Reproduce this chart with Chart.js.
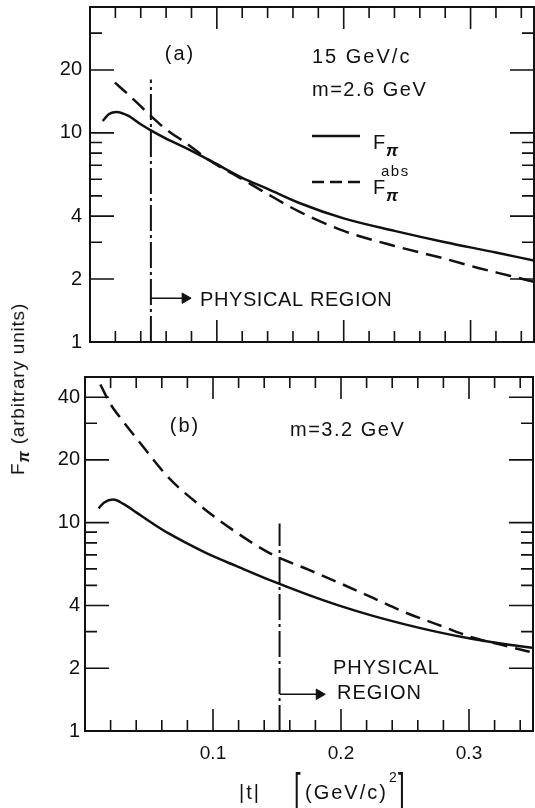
<!DOCTYPE html>
<html>
<head>
<meta charset="utf-8">
<script src="https://cdn.jsdelivr.net/npm/chart.js@4.4.1/dist/chart.umd.min.js"></script>
<style>
  body { margin: 0; background: #fff; width: 535px; height: 808px; position: relative; overflow: hidden;
         font-family: "Liberation Sans", Arial, sans-serif; }
  #top { position: absolute; left: 0; top: 0; }
  #bot { position: absolute; left: 0; top: 360px; }
  #ytitle { position: absolute; left: 20px; top: 389px; transform: translate(-50%, -50%) rotate(-90deg);
            white-space: nowrap; font-size: 19px; letter-spacing: 0.8px; color: #111; }
  #ytitle sub { font-style: italic; font-weight: bold; font-size: 16px; }
</style>
</head>
<body>
<canvas id="top" width="535" height="360"></canvas>
<canvas id="bot" width="535" height="448"></canvas>
<div id="ytitle">F<sub>π</sub> (arbitrary units)</div>
<script>
// panel (a): 15 GeV/c, m = 2.6 GeV
const aSolidT = [0.010, 0.015, 0.021, 0.03, 0.04, 0.049, 0.06, 0.075, 0.096, 0.12, 0.14, 0.165, 0.2, 0.24, 0.28, 0.32, 0.35];
const aSolidF = [11.4, 12.3, 12.6, 12.1, 11.0, 10.2, 9.4, 8.5, 7.3, 6.1, 5.4, 4.62, 3.9, 3.4, 3.0, 2.68, 2.45];
const aAbsT = [0.0196, 0.03, 0.049, 0.06, 0.075, 0.094, 0.12, 0.14, 0.165, 0.2, 0.24, 0.28, 0.306, 0.33, 0.35];
const aAbsF = [17.4, 15.3, 11.9, 10.4, 9.0, 7.4, 6.0, 5.1, 4.2, 3.4, 2.88, 2.5, 2.26, 2.08, 1.94];
const aPhysT = 0.048, aPhysTop = 18, aArrowEnd = 0.075, aArrowF = 1.62;

// panel (b): m = 3.2 GeV
const bSolidT = [0.0106, 0.015, 0.022, 0.03, 0.04, 0.053, 0.065, 0.079, 0.1, 0.118, 0.145, 0.175, 0.198, 0.225, 0.25, 0.275, 0.302, 0.33, 0.352];
const bSolidF = [11.7, 12.5, 12.9, 12.3, 11.2, 9.9, 8.9, 8.0, 6.9, 6.2, 5.28, 4.49, 4.01, 3.57, 3.25, 2.99, 2.77, 2.6, 2.5];
const bAbsT = [0.012, 0.02, 0.03, 0.04, 0.0655, 0.092, 0.118, 0.145, 0.175, 0.198, 0.225, 0.25, 0.275, 0.302, 0.33, 0.352];
const bAbsF = [46, 37, 30.5, 25.5, 16.4, 11.8, 9.0, 7.1, 5.93, 5.16, 4.35, 3.71, 3.25, 2.82, 2.55, 2.36];
const bPhysT = 0.152, bPhysTop = 9.9, bArrowEnd = 0.183, bArrowF = 1.5;

// axes
const xTickVals = [0.02, 0.04, 0.06, 0.08, 0.1, 0.12, 0.14, 0.16, 0.18, 0.2, 0.22, 0.24, 0.26, 0.28, 0.3, 0.32, 0.34];
const xMajor = [0.1, 0.2, 0.3];
const yMinor = [3, 5, 6, 7, 8, 9, 30];
const aYLabels = [1, 2, 4, 10, 20];
const bYLabels = [1, 2, 4, 10, 20, 40];

const ink = '#111';
const FONT = '"Liberation Sans", Arial, sans-serif';
const pts = (ts, fs) => ts.map((t, i) => ({ x: t, y: fs[i] }));

const frame = {
  id: 'frame',
  afterDraw(chart, args, o) {
    const { ctx, chartArea: a, scales: { x, y } } = chart;
    ctx.save();
    ctx.strokeStyle = ink;
    ctx.fillStyle = ink;
    ctx.lineWidth = 2;
    ctx.strokeRect(a.left, a.top, a.right - a.left, a.bottom - a.top);
    ctx.lineWidth = 1.6;
    ctx.beginPath();
    xTickVals.forEach(v => {
      const px = x.getPixelForValue(v);
      const len = xMajor.includes(v) ? 22 : 11;
      ctx.moveTo(px, a.bottom); ctx.lineTo(px, a.bottom - len);
      ctx.moveTo(px, a.top); ctx.lineTo(px, a.top + len);
    });
    o.yLabels.concat(yMinor).forEach(v => {
      if (v <= y.min || v >= y.max) return;
      const py = y.getPixelForValue(v);
      const len = o.yLabels.includes(v) ? 24 : 12;
      ctx.moveTo(a.left, py); ctx.lineTo(a.left + len, py);
      ctx.moveTo(a.right, py); ctx.lineTo(a.right - len, py);
    });
    ctx.stroke();

    ctx.textBaseline = 'middle';
    o.texts.forEach(t => {
      ctx.font = (t.style || '') + ' ' + (t.size || 20) + 'px ' + FONT;
      ctx.letterSpacing = (t.ls || 0) + 'px';
      ctx.textAlign = t.align || 'left';
      const px = t.tx !== undefined ? x.getPixelForValue(t.tx) : t.x;
      const py = t.ty !== undefined ? y.getPixelForValue(t.ty) : t.y;
      ctx.save();
      ctx.translate(px, py);
      ctx.scale(1, t.sy || 1);
      ctx.fillText(t.s, 0, 0);
      ctx.restore();
    });

    if (o.legend) {
      ctx.lineWidth = 2.5;
      ctx.beginPath(); ctx.moveTo(312, 136); ctx.lineTo(360, 136); ctx.stroke();
      ctx.setLineDash([12, 6]);
      ctx.beginPath(); ctx.moveTo(312, 182); ctx.lineTo(360, 182); ctx.stroke();
      ctx.setLineDash([]);
    }
    ctx.restore();
  }
};

function curve(data, dash) {
  return { data, borderColor: ink, borderWidth: 2.5, borderDash: dash || [], pointRadius: 0,
           cubicInterpolationMode: 'monotone', fill: false };
}
function physLine(t, top) {
  return { data: [{ x: t, y: 1 }, { x: t, y: top }], borderColor: ink, borderWidth: 2,
           borderDash: [26, 4, 3, 4], pointRadius: 0, tension: 0 };
}
function arrow(t0, t1, f) {
  return { data: [{ x: t0, y: f }, { x: t1, y: f }], borderColor: ink, borderWidth: 1.6, tension: 0,
           pointRadius: [0, 6], pointStyle: 'triangle', rotation: 90,
           pointBackgroundColor: ink, pointBorderColor: ink, pointBorderWidth: 1 };
}

function panel(id, cfg) {
  return new Chart(document.getElementById(id), {
    type: 'line',
    data: { datasets: cfg.datasets },
    options: {
      responsive: false,
      animation: false,
      layout: { padding: cfg.pad, autoPadding: false },
      plugins: { legend: { display: false }, tooltip: { enabled: false }, frame: cfg.frame },
      scales: {
        x: {
          type: 'linear', min: 0, max: 0.35,
          afterFit: s => { s.height = cfg.xh; s.paddingLeft = 0; s.paddingRight = 0; },
          afterBuildTicks: s => { s.ticks = cfg.xLabels.map(v => ({ value: v })); },
          grid: { display: false, drawTicks: false },
          border: { display: false },
          ticks: { display: cfg.xLabels.length > 0, autoSkip: false, maxRotation: 0, padding: 11,
                   color: ink, font: { family: FONT, size: 19 }, callback: v => v.toFixed(1) }
        },
        y: {
          type: 'logarithmic', min: 1, max: cfg.ymax,
          afterFit: s => { s.width = cfg.yw; s.paddingTop = 0; s.paddingBottom = 0; },
          afterBuildTicks: s => { s.ticks = cfg.frame.yLabels.map(v => ({ value: v })); },
          grid: { display: false, drawTicks: false },
          border: { display: false },
          ticks: { autoSkip: false, padding: cfg.ypad, color: ink,
                   font: { family: FONT, size: 20 }, callback: v => String(v) }
        }
      }
    },
    plugins: [frame]
  });
}

panel('top', {
  pad: { top: 7, right: 1, left: 0, bottom: 0 },
  xh: 18, yw: 90, ypad: 8, ymax: 40, xLabels: [],
  datasets: [
    curve(pts(aSolidT, aSolidF)),
    curve(pts(aAbsT, aAbsF), [16, 8]),
    physLine(aPhysT, aPhysTop),
    arrow(aPhysT, aArrowEnd, aArrowF)
  ],
  frame: {
    yLabels: aYLabels, legend: true,
    texts: [
      { s: '(a)', x: 180, y: 54, align: 'center', ls: 2 },
      { s: '15 GeV/c', x: 312, y: 57, ls: 2 },
      { s: 'm=2.6 GeV', x: 312, y: 90, ls: 1.5 },
      { s: 'F', x: 373, y: 143 },
      { s: 'π', x: 386, y: 151, size: 17, style: 'italic bold' },
      { s: 'F', x: 373, y: 188 },
      { s: 'π', x: 386, y: 196, size: 17, style: 'italic bold' },
      { s: 'abs', x: 381, y: 172, size: 15, ls: 1.5 },
      { s: 'PHYSICAL REGION', x: 200, y: 300, ls: 0.6 }
    ]
  }
});

panel('bot', {
  pad: { top: 17, right: 2, left: 0, bottom: 0 },
  xh: 77, yw: 85, ypad: 5, ymax: 50, xLabels: xMajor,
  datasets: [
    curve(pts(bSolidT, bSolidF)),
    curve(pts(bAbsT, bAbsF), [15, 8]),
    physLine(bPhysT, bPhysTop),
    arrow(bPhysT, bArrowEnd, bArrowF)
  ],
  frame: {
    yLabels: bYLabels, legend: false,
    texts: [
      { s: '(b)', x: 185, y: 66, align: 'center', ls: 2 },
      { s: 'm=3.2 GeV', x: 290, y: 70, ls: 1.5 },
      { s: 'PHYSICAL', x: 333, y: 308, ls: 1 },
      { s: 'REGION', x: 337, y: 333, ls: 1 },
      { s: '|t|', x: 239, y: 433, ls: 2 },
      { s: '[', x: 294, y: 431, size: 24, sy: 1.8 },
      { s: '(GeV/c)', x: 305, y: 433, ls: 2 },
      { s: '2', x: 389, y: 418, size: 14 },
      { s: ']', x: 398, y: 431, size: 24, sy: 1.8 }
    ]
  }
});
</script>
</body>
</html>
